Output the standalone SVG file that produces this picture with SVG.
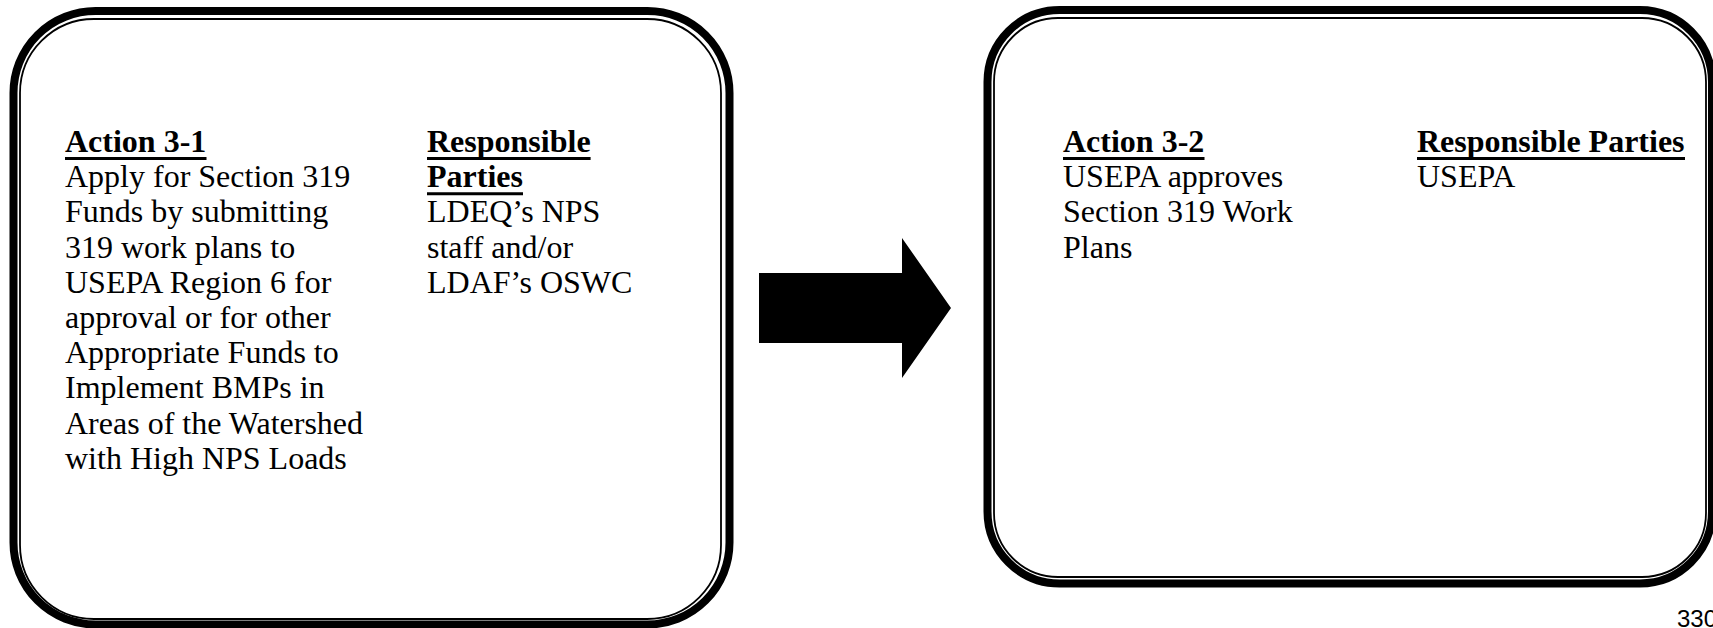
<svg xmlns="http://www.w3.org/2000/svg" width="1713" height="628" viewBox="0 0 1713 628">
<style>
.outer{fill:#fff;stroke:#000;stroke-width:8}
.inner{fill:none;stroke:#000;stroke-width:1.8}
.t{font-family:"Liberation Serif","Times New Roman",serif;font-size:32px;fill:#000}
.b{font-weight:bold}
.ul{stroke:#000;stroke-width:3}
.pg{font-family:"Liberation Sans",Arial,sans-serif;font-size:24px;fill:#000}
</style>
<rect width="1713" height="628" fill="#fff"/>
<g id="node-action-3-1">
<rect class="outer" x="13.5" y="11" width="716" height="613.5" rx="82" ry="82"/>
<rect class="inner" x="20" y="19" width="701" height="600" rx="74" ry="74"/>
<text class="t b" x="65" y="152">Action 3-1</text>
<line class="ul" x1="65" y1="158.5" x2="206.5" y2="158.5"/>
<text class="t" x="65">
<tspan x="65" y="187.2">Apply for Section 319</tspan>
<tspan x="65" y="222.4">Funds by submitting</tspan>
<tspan x="65" y="257.6">319 work plans to</tspan>
<tspan x="65" y="292.8">USEPA Region 6 for</tspan>
<tspan x="65" y="328">approval or for other</tspan>
<tspan x="65" y="363.2">Appropriate Funds to</tspan>
<tspan x="65" y="398.4">Implement BMPs in</tspan>
<tspan x="65" y="433.6">Areas of the Watershed</tspan>
<tspan x="65" y="468.8">with High NPS Loads</tspan>
</text>
<text class="t b" x="427" y="152">Responsible</text>
<line class="ul" x1="427" y1="158.5" x2="590.6" y2="158.5"/>
<text class="t b" x="427" y="187.2">Parties</text>
<line class="ul" x1="427" y1="193.7" x2="523" y2="193.7"/>
<text class="t">
<tspan x="427" y="222.4">LDEQ’s NPS</tspan>
<tspan x="427" y="257.6">staff and/or</tspan>
<tspan x="427" y="292.8">LDAF’s OSWC</tspan>
</text>
</g>
<g id="connectors">
<polygon points="759,273 902,273 902,238 951,308 902,378 902,343 759,343" fill="#000"/>
</g>
<g id="node-action-3-2">
<rect class="outer" x="987.5" y="10" width="724.5" height="573.5" rx="72" ry="72"/>
<rect class="inner" x="994" y="18" width="712" height="559" rx="64" ry="64"/>
<text class="t b" x="1063" y="152">Action 3-2</text>
<line class="ul" x1="1063" y1="158.5" x2="1204.5" y2="158.5"/>
<text class="t">
<tspan x="1063" y="187.2">USEPA approves</tspan>
<tspan x="1063" y="222.4">Section 319 Work</tspan>
<tspan x="1063" y="257.6">Plans</tspan>
</text>
<text class="t b" x="1417" y="152">Responsible Parties</text>
<line class="ul" x1="1417" y1="158.5" x2="1685" y2="158.5"/>
<text class="t" x="1417" y="187.2">USEPA</text>
</g>
<text class="pg" x="1677" y="627">330</text>
</svg>
